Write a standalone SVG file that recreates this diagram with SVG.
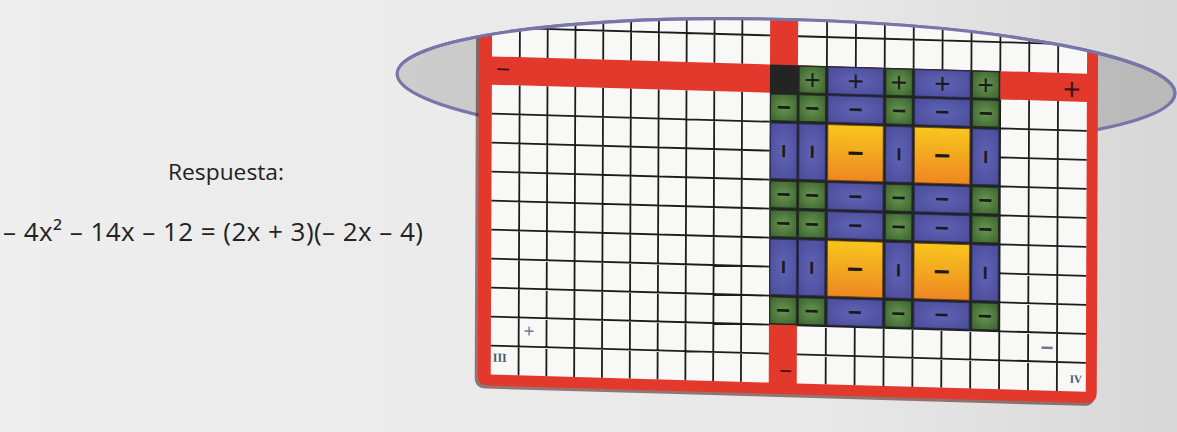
<svg xmlns="http://www.w3.org/2000/svg" width="1177" height="432" viewBox="0 0 1177 432">
<defs>
<style>
.red{fill:#e3392d}
.cell{fill:#f8f8f6}
.grid{fill:none;stroke:#1c1c1c;stroke-width:1.8}
.tg{fill:url(#gG);stroke:#1e2a1a;stroke-width:0.8}
.tb{fill:url(#gB);stroke:#25274f;stroke-width:0.8}
.to{fill:url(#gO);stroke:#6a4210;stroke-width:0.8}
.s{font-family:"Liberation Sans",Arial,sans-serif;fill:#1b1b1b;text-anchor:middle}
.m{font-size:24px;font-weight:bold}
.p{font-size:28px}
.lbl{font-family:"Open Sans","Liberation Sans",sans-serif;fill:#222222}
.rom{font-family:"Liberation Serif",serif;font-weight:bold;fill:#4d5366;text-anchor:middle}
</style>
<linearGradient id="bg" x1="0" y1="0" x2="1" y2="0">
<stop offset="0" stop-color="#eeeeee"/><stop offset="0.7" stop-color="#e8e8e8"/><stop offset="1" stop-color="#d7d7d7"/>
</linearGradient>
<linearGradient id="disc" x1="0" y1="0" x2="1" y2="0">
<stop offset="0" stop-color="#cdcdcd"/><stop offset="1" stop-color="#b9b9b9"/>
</linearGradient>
<radialGradient id="gG" cx="0.5" cy="0.5" r="0.7">
<stop offset="0" stop-color="#67964f"/><stop offset="1" stop-color="#3b6030"/>
</radialGradient>
<radialGradient id="gB" cx="0.5" cy="0.5" r="0.7">
<stop offset="0" stop-color="#6063b6"/><stop offset="1" stop-color="#4a4c98"/>
</radialGradient>
<linearGradient id="gO" x1="0" y1="0" x2="0" y2="1">
<stop offset="0" stop-color="#f8c61e"/><stop offset="1" stop-color="#ee8722"/>
</linearGradient>
<clipPath id="boardClip">
<ellipse cx="786" cy="83.5" rx="389" ry="64" transform="rotate(1.47 786 83.5)"/>
<polygon points="0,63.3 1177,93.5 1177,432 0,432"/>
</clipPath>
<clipPath id="topClip">
<polygon points="0,0 1177,0 1177,93.5 0,63.3"/>
</clipPath>
<g id="gM"><rect class="tg" width="26.5" height="26.3"/><text class="s m" x="13.25" y="21">−</text></g>
<g id="gP"><rect class="tg" width="26.5" height="26.3"/><text class="s p" x="13.25" y="22.8">+</text></g>
<g id="bM"><rect class="tb" width="55.4" height="26.3"/><text class="s m" x="27.7" y="21">−</text></g>
<g id="bP"><rect class="tb" width="55.4" height="26.3"/><text class="s p" x="27.7" y="22.8">+</text></g>
<g id="bV"><rect class="tb" width="26.5" height="55"/><text class="s m" x="13.25" y="35.4" transform="rotate(90 13.25 27.5)">−</text></g>
<g id="oM"><rect class="to" width="55.4" height="55"/><text class="s m" x="27.7" y="37" style="font-size:28px">−</text></g>
</defs>

<rect width="1177" height="432" fill="url(#bg)"/>

<g id="answer-label">
<text class="lbl" x="168" y="180" font-size="22.5" textLength="116" lengthAdjust="spacingAndGlyphs">Respuesta:</text>
</g>
<g id="equation">
<text class="lbl" x="3" y="241" font-size="26" textLength="420" lengthAdjust="spacing">– 4x² – 14x – 12 = (2x + 3)(– 2x – 4)</text>
</g>

<g id="disc-back">
<ellipse cx="786" cy="83.5" rx="389" ry="64" transform="rotate(1.47 786 83.5)" fill="url(#disc)" stroke="#7676a8" stroke-width="3.2"/>
</g>

<g id="board" clip-path="url(#boardClip)">
<g transform="matrix(1 0.029 -0.004 1.01 479 56)">
<path d="M-3,-100 H617 V318 Q617,329 606,329 H8 Q-3,329 -3,318 Z" fill="#4a1410" opacity="0.55"/>
<path class="red" d="M0,-100 H619 V316 Q619,326 609,326 H10 Q0,326 0,316 Z"/>
<rect class="cell" x="13" y="-100" width="278" height="100"/>
<rect class="cell" x="319" y="-100" width="289" height="100"/>
<rect class="cell" x="13" y="28" width="278" height="287"/>
<rect class="cell" x="319" y="28" width="289" height="287"/>
<path class="grid" d="M40.8 -100V0M40.8 28V315M68.6 -100V0M68.6 28V315M96.4 -100V0M96.4 28V315M124.2 -100V0M124.2 28V315M152 -100V0M152 28V315M179.8 -100V0M179.8 28V315M207.6 -100V0M207.6 28V315M235.4 -100V0M235.4 28V315M263.2 -100V0M263.2 28V315M347.9 -100V0M347.9 28V315M376.8 -100V0M376.8 28V315M405.7 -100V0M405.7 28V315M434.6 -100V0M434.6 28V315M463.5 -100V0M463.5 28V315M492.4 -100V0M492.4 28V315M521.3 -100V0M521.3 28V315M550.2 -100V0M550.2 28V315M579.1 -100V0M579.1 28V315M13 -86.1H291M319 -86.1H608M13 -57.4H291M319 -57.4H608M13 -28.7H291M319 -28.7H608M13 56.7H291M319 56.7H608M13 85.4H291M319 85.4H608M13 114.1H291M319 114.1H608M13 142.8H291M319 142.8H608M13 171.5H291M319 171.5H608M13 200.2H291M319 200.2H608M13 228.9H291M319 228.9H608M13 257.6H291M319 257.6H608M13 286.3H291M319 286.3H608"/>

<g id="tiles">
<rect x="291" y="0" width="230.3" height="257.6" fill="#232423"/>
<g id="factor-top">
<use href="#gP" x="320.2" y="0.85"/>
<use href="#bP" x="349.1" y="0.85"/>
<use href="#gP" x="406.9" y="0.85"/>
<use href="#bP" x="435.8" y="0.85"/>
<use href="#gP" x="493.6" y="0.85"/>
</g>
<g id="factor-left">
<use href="#gM" x="291.8" y="29.2"/>
<use href="#bV" x="291.8" y="57.9"/>
<use href="#gM" x="291.8" y="115.3"/>
<use href="#gM" x="291.8" y="144"/>
<use href="#bV" x="291.8" y="172.7"/>
<use href="#gM" x="291.8" y="230.1"/>
</g>
<g id="product">
<use href="#gM" x="320.2" y="29.2"/><use href="#bM" x="349.1" y="29.2"/><use href="#gM" x="406.9" y="29.2"/><use href="#bM" x="435.8" y="29.2"/><use href="#gM" x="493.6" y="29.2"/>
<use href="#bV" x="320.2" y="57.9"/><use href="#oM" x="349.1" y="57.9"/><use href="#bV" x="406.9" y="57.9"/><use href="#oM" x="435.8" y="57.9"/><use href="#bV" x="493.6" y="57.9"/>
<use href="#gM" x="320.2" y="115.3"/><use href="#bM" x="349.1" y="115.3"/><use href="#gM" x="406.9" y="115.3"/><use href="#bM" x="435.8" y="115.3"/><use href="#gM" x="493.6" y="115.3"/>
<use href="#gM" x="320.2" y="144"/><use href="#bM" x="349.1" y="144"/><use href="#gM" x="406.9" y="144"/><use href="#bM" x="435.8" y="144"/><use href="#gM" x="493.6" y="144"/>
<use href="#bV" x="320.2" y="172.7"/><use href="#oM" x="349.1" y="172.7"/><use href="#bV" x="406.9" y="172.7"/><use href="#oM" x="435.8" y="172.7"/><use href="#bV" x="493.6" y="172.7"/>
<use href="#gM" x="320.2" y="230.1"/><use href="#bM" x="349.1" y="230.1"/><use href="#gM" x="406.9" y="230.1"/><use href="#bM" x="435.8" y="230.1"/><use href="#gM" x="493.6" y="230.1"/>
</g>
</g>

<g id="board-labels">
<text class="s" x="24" y="20.5" font-size="24" style="fill:#3a1510">−</text>
<text class="s" x="593" y="26" font-size="30" style="fill:#3a1510">+</text>
<text class="s" x="308" y="310.5" font-size="22" style="fill:#3a1510">−</text>
<text class="s" x="51" y="277" font-size="18" style="fill:#6f6fa3">+</text>
<text class="rom" x="22" y="302" font-size="12">III</text>
<text class="s" x="569" y="280" font-size="22" style="fill:#70768f;font-weight:bold">−</text>
<text class="rom" x="598" y="306.5" font-size="11">IV</text>
</g>
</g>
</g>

<g id="disc-rim">
<ellipse cx="786" cy="83.5" rx="389" ry="64" transform="rotate(1.47 786 83.5)" fill="none" stroke="#7676a8" stroke-width="3.2" clip-path="url(#topClip)"/>
</g>
</svg>
